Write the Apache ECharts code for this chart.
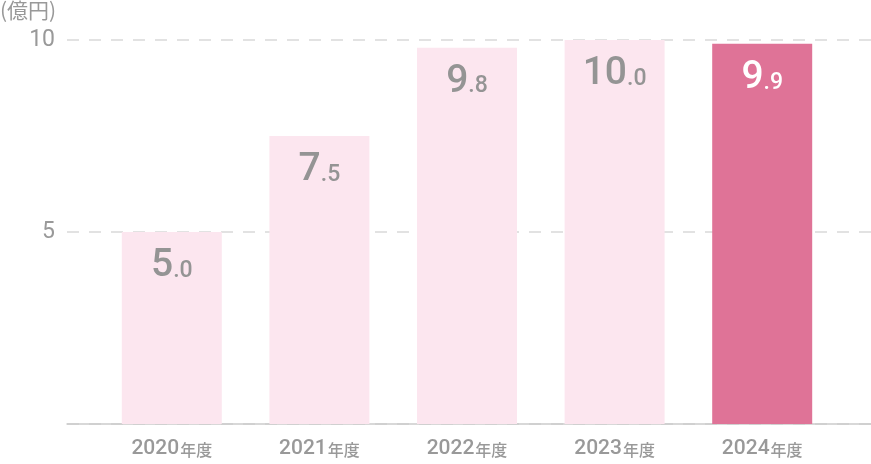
<!DOCTYPE html>
<html>
<head>
<meta charset="utf-8">
<script src="https://cdn.jsdelivr.net/npm/echarts@6/dist/echarts.min.js"></script>
<style>html,body{margin:0;padding:0;background:#fff}#c{width:871px;height:464px}</style>
</head>
<body>
<div id="c"></div>
<script>
const categories = ['2020', '2021', '2022', '2023', '2024'];
const values = [5.0, 7.5, 9.8, 10.0, 9.9];
const yTicks = [0, 5, 10];
const unitLabel = '(億円)';
const yearSuffix = '年度';

const LIGHT = '#fce6ef';
const DARK = '#df7397';
const GRAY = '#999999';
const LABEL_GRAY = '#949494';
const NUM_FONT = 'Roboto, "Noto Sans", sans-serif';
const CJK_FONT = '"Noto Sans CJK JP", sans-serif';

const chart = echarts.init(document.getElementById('c'));
const lastIdx = values.length - 1;

chart.setOption({
  animation: false,
  title: {
    text: unitLabel, left: 0, top: 0, padding: 0,
    textStyle: { fontSize: 21, fontWeight: 'normal', color: GRAY, fontFamily: CJK_FONT }
  },
  grid: [
    { left: 67, right: 0, top: 40, bottom: 40 },
    { left: 98, right: 35, top: 40, bottom: 40 }
  ],
  xAxis: [
    { gridIndex: 0, type: 'value', min: 0, max: 1,
      axisLine: { show: true, lineStyle: { color: '#cccccc', width: 1.5 } },
      axisTick: { show: false }, axisLabel: { show: false }, splitLine: { show: false } },
    { gridIndex: 1, type: 'category', data: categories,
      axisLine: { show: false }, axisTick: { show: false },
      axisLabel: {
        margin: 14,
        formatter: v => '{n|' + v + '}{s|' + yearSuffix + '}',
        rich: {
          n: { fontSize: 21, color: GRAY, fontFamily: NUM_FONT, fontWeight: 500 },
          s: { fontSize: 16, color: GRAY, fontFamily: CJK_FONT, fontWeight: 500, padding: [3, 0, 0, 1] }
        }
      } }
  ],
  yAxis: [
    { gridIndex: 0, type: 'value', min: yTicks[0], max: yTicks[yTicks.length - 1], interval: yTicks[1] - yTicks[0],
      axisLine: { show: false }, axisTick: { show: false },
      axisLabel: { margin: 12, fontSize: 23, color: GRAY, fontFamily: NUM_FONT, showMinLabel: false },
      splitLine: { show: true, lineStyle: { color: '#d9d9d9', width: 1.5, type: [12, 10] } } },
    { gridIndex: 1, type: 'value', min: yTicks[0], max: yTicks[yTicks.length - 1],
      show: false, splitLine: { show: false } }
  ],
  series: [{
    type: 'bar', xAxisIndex: 1, yAxisIndex: 1, barWidth: 100,
    data: values.map((v, i) => ({
      value: v,
      itemStyle: { color: i === lastIdx ? DARK : LIGHT }
    })),
    label: {
      show: true, position: 'insideTop', distance: 15,
      formatter: p => {
        const s = Number(p.value).toFixed(1).split('.');
        const w = p.dataIndex === lastIdx ? 'w' : '';
        return '{b' + w + '|' + s[0] + '}{d' + w + '|.' + s[1] + '}';
      },
      rich: {
        b: { fontSize: 39, fontWeight: 500, fontFamily: NUM_FONT, color: LABEL_GRAY },
        d: { fontSize: 23, fontWeight: 500, fontFamily: NUM_FONT, color: LABEL_GRAY, padding: [9, 0, 0, 0] },
        bw: { fontSize: 39, fontWeight: 500, fontFamily: NUM_FONT, color: '#ffffff' },
        dw: { fontSize: 23, fontWeight: 500, fontFamily: NUM_FONT, color: '#ffffff', padding: [9, 0, 0, 0] }
      }
    }
  }]
});
</script>
</body>
</html>
